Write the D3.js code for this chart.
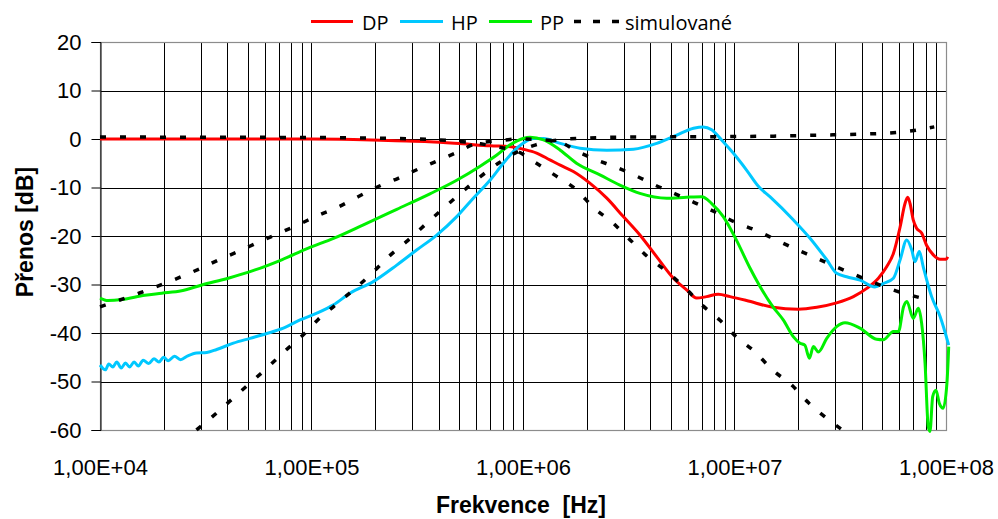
<!DOCTYPE html>
<html>
<head>
<meta charset="utf-8">
<script src="https://cdn.jsdelivr.net/npm/d3@7"></script>
<style>
  html, body { margin: 0; padding: 0; background: #ffffff; }
  svg { display: block; }
  text { white-space: pre; }
</style>
</head>
<body>
<svg id="chart" width="998" height="519"></svg>
<script>
// ---------------- DATA ----------------
const seriesNames = ["DP", "HP", "PP", "simulované"];
const seriesColors = ["#ff0000", "#00c8ff", "#00f000", "#000000"];

const xTickValues = [1e4, 1e5, 1e6, 1e7, 1e8];
const xTickLabels = ["1,00E+04", "1,00E+05", "1,00E+06", "1,00E+07", "1,00E+08"];
const yTickValues = [20, 10, 0, -10, -20, -30, -40, -50, -60];

// DP measured (Hz, dB)
const dpFreq = [1e4, 1e5, 1.58e5, 2.5e5, 3.6e5, 5.2e5, 7.0e5, 8.8e5, 1.0e6, 1.16e6, 1.34e6, 1.5e6, 1.73e6, 2.07e6, 2.49e6, 2.98e6, 3.57e6, 4.29e6, 5.14e6, 5.94e6, 6.62e6, 7.38e6, 8.38e6, 9.53e6, 1.14e7, 1.52e7, 2.0e7, 2.45e7, 3.04e7, 3.65e7, 4.22e7, 4.79e7, 5.25e7, 5.64e7, 6.07e7, 6.4e7, 6.59e7, 6.76e7, 7.0e7, 7.26e7, 7.67e7, 8.09e7, 8.71e7, 9.38e7, 1.0e8, 1.02e8];
const dpDb   = [0, 0, -0.1, -0.35, -0.55, -1.0, -1.4, -1.6, -2.1, -2.9, -4.3, -5.4, -6.7, -9.1, -12.2, -16.0, -19.8, -24.3, -28.7, -31.1, -32.8, -32.5, -32.0, -32.5, -33.3, -34.7, -35.1, -34.7, -33.8, -32.5, -30.8, -28.7, -26.3, -23.6, -18.1, -13.3, -12.0, -13.3, -16.7, -18.4, -19.4, -21.9, -23.9, -24.8, -24.8, -24.3];

// HP measured
const hpFreq = [1.0e4, 1.06e4, 1.1e4, 1.15e4, 1.2e4, 1.26e4, 1.32e4, 1.38e4, 1.45e4, 1.52e4, 1.6e4, 1.7e4, 1.8e4, 1.9e4, 2.0e4, 2.1e4, 2.25e4, 2.4e4, 2.6e4, 2.86e4, 3.2e4, 3.56e4, 4.27e4, 5.12e4, 6.14e4, 7.36e4, 8.83e4, 1.06e5, 1.27e5, 1.52e5, 1.96e5, 2.53e5, 3.14e5, 3.91e5, 4.86e5, 5.82e5, 6.98e5, 8.07e5, 9.0e5, 1.0e6, 1.12e6, 1.25e6, 1.5e6, 1.86e6, 2.49e6, 3.33e6, 4.29e6, 5.33e6, 6.4e6, 7.11e6, 7.8e6, 8.69e6, 9.86e6, 1.14e7, 1.3e7, 1.47e7, 1.9e7, 2.28e7, 2.73e7, 3.04e7, 3.39e7, 3.92e7, 4.61e7, 5.05e7, 5.64e7, 6.07e7, 6.52e7, 6.89e7, 7.13e7, 7.48e7, 7.8e7, 8.55e7, 9.38e7, 1.03e8];
const hpDb   = [-46.6, -47.6, -46.4, -47.0, -46.0, -47.2, -46.2, -47.0, -46.0, -46.8, -45.6, -46.3, -45.3, -46.0, -45.0, -45.7, -44.8, -45.5, -44.7, -44.1, -44.0, -43.4, -42.1, -41.1, -40.1, -39.0, -37.3, -35.9, -34.2, -31.8, -29.4, -26.0, -22.9, -19.8, -16.0, -12.2, -8.5, -5.0, -2.6, -0.9, 0.1, 0.1, -0.9, -1.9, -2.3, -2.1, -0.9, 0.8, 2.2, 2.5, 1.9, -0.2, -2.9, -6.4, -9.8, -11.9, -16.7, -20.5, -24.9, -27.7, -28.4, -29.1, -30.5, -29.8, -28.7, -24.9, -20.8, -22.9, -25.3, -23.2, -26.3, -32.5, -36.6, -42.5];

// PP measured
const ppFreq = [1e4, 1.09e4, 1.27e4, 1.63e4, 1.96e4, 2.43e4, 3.03e4, 4.04e4, 5.41e4, 7.23e4, 9.66e4, 1.27e5, 1.76e5, 2.53e5, 3.63e5, 4.86e5, 6.27e5, 7.52e5, 8.69e5, 1.0e6, 1.08e6, 1.25e6, 1.5e6, 1.79e6, 2.31e6, 2.87e6, 3.57e6, 4.78e6, 5.94e6, 7.0e6, 7.8e6, 8.85e6, 1.02e7, 1.18e7, 1.32e7, 1.52e7, 1.70e7, 1.90e7, 2.04e7, 2.15e7, 2.26e7, 2.36e7, 2.49e7, 2.73e7, 3.04e7, 3.33e7, 3.92e7, 4.70e7, 5.05e7, 5.64e7, 5.96e7, 6.30e7, 6.53e7, 7.0e7, 7.40e7, 7.67e7, 7.96e7, 8.24e7, 8.40e7, 8.65e7, 8.97e7, 9.30e7, 9.70e7, 1.01e8, 1.03e8];
const ppDb   = [-32.8, -33.3, -33.1, -32.2, -31.8, -31.3, -30.1, -28.7, -27.0, -24.9, -22.5, -20.5, -17.7, -14.5, -11.3, -8.5, -5.6, -3.3, -1.2, 0.1, 0.35, -0.2, -2.3, -5.0, -7.4, -9.5, -11.2, -12.2, -12.0, -11.9, -13.3, -16.0, -20.8, -26.5, -30.4, -34.6, -37.3, -40.8, -42.1, -42.5, -45.2, -42.8, -43.9, -41.1, -38.7, -37.9, -39.0, -41.3, -41.4, -39.7, -39.7, -34.6, -33.5, -37.0, -34.9, -38.0, -46.2, -59.3, -60.3, -53.1, -51.8, -54.5, -55.5, -50.4, -42.8];

// simulated: low-pass
const simLpFreq = [1e4, 1e5, 3.16e5, 5.01e5, 6.31e5, 7.94e5, 9.46e5, 1.14e6, 1.42e6, 1.79e6, 2.14e6, 2.66e6, 3.21e6, 3.89e6, 4.68e6, 5.83e6, 7.01e6, 8.51e6, 1.02e7, 1.25e7, 1.51e7, 1.86e7, 2.24e7, 2.75e7, 3.24e7];
const simLpDb   = [0.4, 0.3, 0.0, -0.5, -1.0, -1.8, -2.6, -4.8, -7.5, -10.5, -14.0, -17.3, -20.8, -24.3, -27.0, -30.7, -34.2, -37.3, -40.8, -43.9, -47.6, -50.7, -54.4, -57.7, -60];

// simulated: high-pass
const simHpFreq = [2.86e4, 3.39e4, 4.12e4, 5.01e4, 6.17e4, 7.41e4, 9.02e4, 1.07e5, 1.30e5, 1.58e5, 1.93e5, 2.31e5, 2.84e5, 3.44e5, 4.20e5, 5.07e5, 6.27e5, 7.71e5, 9.46e5, 1.15e6, 1.41e6, 2.0e6, 3.16e6, 1e7, 1.58e7, 2.51e7, 3.98e7, 5.62e7, 6.92e7, 8.8e7];
const simHpDb   = [-60, -57.3, -54.0, -50.7, -47.2, -43.9, -40.6, -37.3, -34.2, -31.1, -27.7, -24.3, -21.0, -17.7, -14.3, -11.2, -7.8, -4.9, -2.6, -1.2, -0.3, 0.2, 0.4, 0.5, 0.6, 0.8, 1.0, 1.3, 1.7, 2.5];

// simulated: band-pass
const simPpFreq = [1e4, 1.24e4, 1.55e4, 1.94e4, 2.42e4, 2.98e4, 3.69e4, 4.56e4, 5.66e4, 7.05e4, 8.73e4, 1.08e5, 1.34e5, 1.66e5, 2.07e5, 2.57e5, 3.2e5, 3.94e5, 4.85e5, 5.97e5, 7.59e5, 9.55e5, 1.17e6, 1.47e6, 1.78e6, 2.19e6, 2.75e6, 3.42e6, 4.21e6, 5.24e6, 6.46e6, 8.04e6, 1e7, 1.24e7, 1.54e7, 1.90e7, 2.36e7, 2.93e7, 3.62e7, 4.5e7, 5.6e7, 6.92e7, 8.55e7];
const simPpDb   = [-34.6, -33.2, -31.7, -30.1, -28.4, -26.7, -24.8, -23.1, -21.2, -19.4, -17.6, -15.7, -14.0, -11.9, -9.8, -8.1, -6.2, -4.5, -2.8, -1.0, -0.4, 0.0, -0.1, -0.55, -2.4, -4.2, -5.8, -7.6, -9.5, -11.3, -13.1, -15.0, -17.1, -18.7, -20.6, -22.5, -24.3, -26.1, -27.8, -29.5, -31.1, -32.3, -33.3];

// ---------------- DRAW ----------------
const svg = d3.select("#chart");
const pLeft = 100, pRight = 946, pTop = 42, pBottom = 430;

const x = d3.scaleLog().domain([1e4, 1e8]).range([pLeft, pRight]);
const y = d3.scaleLinear().domain([-60, 20]).range([pBottom, pTop]);

svg.append("rect").attr("width", 998).attr("height", 519).attr("fill", "#fff");

// gridlines
const grid = svg.append("g");
grid.selectAll("line.v").data(x.ticks()).join("line")
  .attr("x1", d => Math.round(x(d)) + 0.5).attr("x2", d => Math.round(x(d)) + 0.5)
  .attr("y1", pTop).attr("y2", pBottom)
  .attr("stroke", "#000").attr("stroke-width", 1);
grid.selectAll("line.h").data(yTickValues).join("line")
  .attr("x1", pLeft).attr("x2", pRight)
  .attr("y1", d => Math.round(y(d)) + 0.5).attr("y2", d => Math.round(y(d)) + 0.5)
  .attr("stroke", "#000").attr("stroke-width", 1);

// plot border (grey)
svg.append("rect")
  .attr("x", pLeft + 0.5).attr("y", pTop + 0.5)
  .attr("width", pRight - pLeft).attr("height", pBottom - pTop)
  .attr("fill", "none").attr("stroke", "#8c8c8c").attr("stroke-width", 1.2);

// y axis
const yAxis = svg.append("g")
  .attr("transform", `translate(${pLeft + 0.5},0)`)
  .call(d3.axisLeft(y).tickValues(yTickValues).tickSize(9).tickPadding(10).tickFormat(d => String(d)));
yAxis.select(".domain").attr("stroke", "#000");
yAxis.selectAll(".tick line").attr("stroke", "#000");
yAxis.selectAll("text")
  .attr("font-family", "Liberation Sans, Arial, sans-serif")
  .attr("font-size", 22).attr("fill", "#000");

// x axis labels
const xAxis = svg.append("g")
  .attr("transform", `translate(0,${pBottom})`)
  .call(d3.axisBottom(x).tickValues(xTickValues).tickSize(0).tickPadding(29)
    .tickFormat((d, i) => xTickLabels[i]));
xAxis.select(".domain").remove();
xAxis.selectAll("text")
  .attr("font-family", "Liberation Sans, Arial, sans-serif")
  .attr("font-size", 22).attr("fill", "#000");

// axis titles
svg.append("text")
  .attr("x", 521).attr("y", 513)
  .attr("text-anchor", "middle")
  .attr("font-family", "Liberation Sans, Arial, sans-serif")
  .attr("font-weight", "bold").attr("font-size", 23)
  .text("Frekvence  [Hz]");
svg.append("text")
  .attr("transform", `translate(33,232) rotate(-90)`)
  .attr("text-anchor", "middle")
  .attr("font-family", "Liberation Sans, Arial, sans-serif")
  .attr("font-weight", "bold").attr("font-size", 23)
  .text("Přenos [dB]");

// series
const line = d3.line().x(d => x(d[0])).y(d => y(d[1])).curve(d3.curveMonotoneX);
const zip = (f, v) => f.map((d, i) => [d, v[i]]);

const plot = svg.append("g");
const measured = [[dpFreq, dpDb], [hpFreq, hpDb], [ppFreq, ppDb]];
measured.forEach((s, i) => {
  plot.append("path")
    .attr("d", line(zip(s[0], s[1])))
    .attr("fill", "none").attr("stroke", seriesColors[i])
    .attr("stroke-width", 3).attr("stroke-linejoin", "round");
});
const simulated = [[simLpFreq, simLpDb], [simHpFreq, simHpDb], [simPpFreq, simPpDb]];
simulated.forEach(s => {
  plot.append("path")
    .attr("d", line(zip(s[0], s[1])))
    .attr("fill", "none").attr("stroke", seriesColors[3])
    .attr("stroke-width", 3.5).attr("stroke-dasharray", "6,14");
});

// legend
const legendItems = [
  { x1: 311, x2: 353, tx: 362 },
  { x1: 400, x2: 443, tx: 451 },
  { x1: 489, x2: 532, tx: 540 },
  { x1: 574, x2: 619, tx: 625 }
];
const legend = svg.append("g");
legendItems.forEach((it, i) => {
  legend.append("line")
    .attr("x1", it.x1).attr("x2", it.x2).attr("y1", 21.5).attr("y2", 21.5)
    .attr("stroke", seriesColors[i]).attr("stroke-width", i === 3 ? 3.5 : 3)
    .attr("stroke-dasharray", i === 3 ? "7,12" : null);
  legend.append("text")
    .attr("x", it.tx).attr("y", 30)
    .attr("font-family", "Open Sans, sans-serif").attr("font-size", 20)
    .attr("fill", "#000")
    .text(seriesNames[i]);
});
</script>
</body>
</html>
